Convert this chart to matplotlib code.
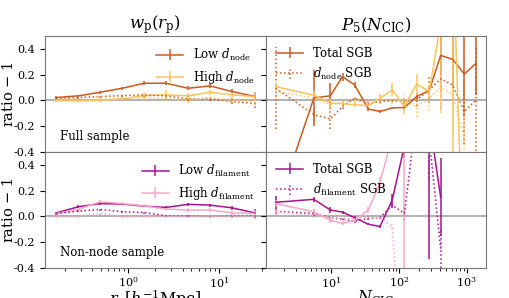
import matplotlib
matplotlib.use('Agg')
import matplotlib.pyplot as plt
import numpy as np

plt.rcParams['font.family'] = 'serif'
plt.rcParams['font.serif'] = ['DejaVu Serif']
plt.rcParams['mathtext.fontset'] = 'dejavuserif'
plt.rcParams['axes.unicode_minus'] = False

# projected correlation function bins
rp = [0.16, 0.28, 0.49, 0.86, 1.5, 2.6, 4.6, 8.0, 14.0, 25.0]
# counts-in-cells bins
ncic = [1.5, 5.5, 9.6, 14.6, 22, 35, 52, 79, 120, 181, 279, 411, 617, 922, 1374]

# top left: full sample, split by d_node
wp_low_node = [0.023, 0.036, 0.064, 0.095, 0.134, 0.134, 0.095, 0.113, 0.07, 0.031]
wp_low_node_err = [0.012, 0.01, 0.01, 0.012, 0.015, 0.015, 0.015, 0.018, 0.02, 0.035]
wp_high_node = [0.0, -0.002, 0.0, 0.013, 0.038, 0.044, 0.036, 0.064, 0.044, 0.03]
wp_high_node_err = [0.01, 0.01, 0.01, 0.012, 0.03, 0.035, 0.02, 0.02, 0.025, 0.035]
wp_low_node_sgb = [0.018, 0.023, 0.031, 0.038, 0.044, 0.036, 0.013, 0.013, -0.008, -0.025]
wp_low_node_sgb_err = [0.01, 0.01, 0.01, 0.012, 0.015, 0.03, 0.02, 0.015, 0.02, 0.03]
wp_high_node_sgb = [0.0, 0.0, 0.01, 0.015, 0.025, 0.015, 0.0, 0.025, 0.0, -0.005]
wp_high_node_sgb_err = [0.01, 0.01, 0.01, 0.012, 0.02, 0.02, 0.02, 0.015, 0.02, 0.03]

# bottom left: non-node sample, split by d_filament
wp_low_fil = [0.028, 0.075, 0.10, 0.096, 0.08, 0.07, 0.094, 0.088, 0.067, 0.028]
wp_low_fil_err = [0.01, 0.01, 0.012, 0.01, 0.01, 0.01, 0.01, 0.012, 0.015, 0.03]
wp_high_fil = [0.023, 0.055, 0.114, 0.10, 0.083, 0.057, 0.05, 0.05, 0.028, 0.023]
wp_high_fil_err = [0.01, 0.012, 0.015, 0.012, 0.01, 0.01, 0.012, 0.012, 0.015, 0.03]
wp_low_fil_sgb = [0.023, 0.041, 0.055, 0.037, 0.031, 0.005, 0.003, 0.0, 0.003, 0.005]
wp_low_fil_sgb_err = [0.01, 0.01, 0.01, 0.01, 0.01, 0.01, 0.01, 0.01, 0.012, 0.02]
wp_high_fil_sgb = [-0.003, 0.0, 0.025, -0.003, 0.0, 0.0, 0.0, 0.0, 0.0, 0.0]
wp_high_fil_sgb_err = [0.01, 0.01, 0.01, 0.01, 0.01, 0.01, 0.01, 0.01, 0.012, 0.02]

# top right: P5 full sample
p5_total = [-0.86, 0.02, 0.036, 0.185, 0.12, -0.066, -0.085, -0.058, -0.054, 0.03, 0.077, 0.35, 0.32, 0.205, 0.29]
p5_total_err = [0.3, 0.22, 0.1, 0.03, 0.02, 0.015, 0.01, 0.01, 0.01, 0.02, 0.03, 0.16, 0.22, 0.335, 0.25]
p5_node_sgb = [0.095, -0.11, -0.143, -0.046, 0.018, -0.025, -0.008, 0.0, -0.008, 0.005, 0.08, 0.17, 0.12, -0.085, 0.005]
p5_node_sgb_err = [0.32, 0.05, 0.08, 0.02, 0.01, 0.02, 0.01, 0.01, 0.02, 0.05, 0.1, 0.1, 0.15, 0.25, 0.4]
p5_high_node = [0.108, 0.04, -0.02, -0.025, -0.033, -0.04, 0.018, 0.082, -0.046, 0.126, 0.07, 0.6, 1.2, -1.5, np.nan]
p5_high_node_err = [0.03, 0.03, 0.03, 0.02, 0.02, 0.02, 0.03, 0.05, 0.06, 0.08, 0.05, 0.68, 1.6, 0.5, np.nan]
p5_high_node_sgb = [0.07, 0.02, -0.03, -0.02, 0.0, -0.02, -0.01, 0.0, 0.0, -0.05, 0.02, 0.1, 0.05, -0.3, np.nan]
p5_high_node_sgb_err = [0.05, 0.03, 0.03, 0.02, 0.02, 0.02, 0.02, 0.03, 0.05, 0.08, 0.1, 0.2, 0.3, 0.3, np.nan]

# bottom right: P5 non-node sample
p5_total_fil = [0.11, 0.133, 0.05, 0.034, -0.01, -0.06, -0.078, 0.127, 0.55, 1.0, 0.75, 0.15, np.nan, np.nan, np.nan]
p5_total_fil_err = [0.05, 0.02, 0.02, 0.012, 0.01, 0.01, 0.01, 0.05, 0.1, 0.3, 1.08, 0.3, np.nan, np.nan, np.nan]
p5_fil_sgb = [0.04, 0.023, -0.01, -0.02, -0.037, -0.016, -0.01, 0.088, 0.023, 0.8, 0.6, -0.25, np.nan, np.nan, np.nan]
p5_fil_sgb_err = [0.02, 0.02, 0.01, 0.01, 0.01, 0.01, 0.01, 0.02, 0.05, 0.2, 0.3, 0.15, np.nan, np.nan, np.nan]
p5_high_fil = [0.10, 0.036, -0.03, -0.055, -0.03, 0.05, 0.26, 0.62, 0.7, np.nan, np.nan, np.nan, np.nan, np.nan, np.nan]
p5_high_fil_err = [0.03, 0.02, 0.02, 0.01, 0.01, 0.02, 0.045, 0.1, 1.2, np.nan, np.nan, np.nan, np.nan, np.nan, np.nan]
p5_high_fil_sgb = [0.035, 0.01, -0.01, -0.03, -0.01, -0.01, -0.01, -0.08, -1.37, np.nan, np.nan, np.nan, np.nan, np.nan, np.nan]
p5_high_fil_sgb_err = [0.02, 0.02, 0.01, 0.01, 0.01, 0.01, 0.01, 0.02, 0.3, np.nan, np.nan, np.nan, np.nan, np.nan, np.nan]

c_orange = '#cc5a1e'
c_yellow = '#fcc35a'
c_purple = '#a8128f'
c_pink = '#f9a8c0'


def draw(ax, x, y, err, color, ls='-', label=None):
    eb = ax.errorbar(x, y, yerr=err, color=color, ls=ls, lw=1.1, elinewidth=1.1, label=label)
    if ls != '-':
        eb[2][0].set_linestyle(ls)
    return eb


fig, axes = plt.subplots(2, 2, figsize=(5.09, 2.98), dpi=100)
fig.subplots_adjust(left=0.0884, right=0.955, bottom=0.1007, top=0.879, wspace=0, hspace=0)

ax = axes[0][0]
draw(ax, rp, wp_low_node, wp_low_node_err, c_orange, label=r'Low $d_{\rm node}$')
draw(ax, rp, wp_high_node, wp_high_node_err, c_yellow, label=r'High $d_{\rm node}$')
draw(ax, rp, wp_low_node_sgb, wp_low_node_sgb_err, c_orange, ls=':')
draw(ax, rp, wp_high_node_sgb, wp_high_node_sgb_err, c_yellow, ls=':')
ax.legend(loc='upper right', frameon=False, fontsize=8.5, handlelength=2.3)
ax.text(0.07, 0.1, 'Full sample', transform=ax.transAxes, fontsize=8.5)
ax.set_title(r'$w_{\rm p}(r_{\rm p})$', fontsize=12, pad=4)

ax = axes[0][1]
draw(ax, ncic, p5_total, p5_total_err, c_orange, label='Total SGB')
draw(ax, ncic, p5_node_sgb, p5_node_sgb_err, c_orange, ls=':', label=r'$d_{\rm node}$ SGB')
draw(ax, ncic, p5_high_node, p5_high_node_err, c_yellow)
draw(ax, ncic, p5_high_node_sgb, p5_high_node_sgb_err, c_yellow, ls=':')
ax.legend(loc='upper left', frameon=False, fontsize=8.5, handlelength=2.3)
ax.set_title(r'$P_5(N_{\rm CIC})$', fontsize=12, pad=4)

ax = axes[1][0]
draw(ax, rp, wp_low_fil, wp_low_fil_err, c_purple, label=r'Low $d_{\rm filament}$')
draw(ax, rp, wp_high_fil, wp_high_fil_err, c_pink, label=r'High $d_{\rm filament}$')
draw(ax, rp, wp_low_fil_sgb, wp_low_fil_sgb_err, c_purple, ls=':')
draw(ax, rp, wp_high_fil_sgb, wp_high_fil_sgb_err, c_pink, ls=':')
ax.legend(loc='upper right', frameon=False, fontsize=8.5, handlelength=2.3)
ax.text(0.07, 0.1, 'Non-node sample', transform=ax.transAxes, fontsize=8.5)
ax.set_xlabel(r'$r_{\rm p} [h^{-1}{\rm Mpc}]$', fontsize=11.5, labelpad=-1.5)

ax = axes[1][1]
draw(ax, ncic, p5_total_fil, p5_total_fil_err, c_purple, label='Total SGB')
draw(ax, ncic, p5_fil_sgb, p5_fil_sgb_err, c_purple, ls=':', label=r'$d_{\rm filament}$ SGB')
draw(ax, ncic, p5_high_fil, p5_high_fil_err, c_pink)
draw(ax, ncic, p5_high_fil_sgb, p5_high_fil_sgb_err, c_pink, ls=':')
ax.legend(loc='upper left', frameon=False, fontsize=8.5, handlelength=2.3)
ax.set_xlabel(r'$N_{\rm CIC}$', fontsize=11.5, labelpad=-1.5)

for row in range(2):
    for col in range(2):
        ax = axes[row][col]
        ax.set_xscale('log')
        ax.set_ylim(-0.4, 0.5)
        ax.set_yticks([-0.4, -0.2, 0.0, 0.2, 0.4])
        ax.axhline(0, color='gray', lw=1.5, alpha=0.6, zorder=0)
        ax.tick_params(labelsize=8)
        ax.tick_params(axis='x', pad=2)
        for s in ax.spines.values():
            s.set_color('#777777')
        if col == 0:
            ax.set_xlim(0.12, 33)
            ax.set_ylabel(r'ratio $-$ 1', fontsize=10.5)
            ax.yaxis.set_label_coords(-0.13, 0.5)
        else:
            ax.set_xlim(1.06, 1930)
            ax.set_yticklabels([])
        if row == 0:
            ax.set_xticklabels([])
            ax.tick_params(axis='x', which='both', labelbottom=False)

plt.savefig('out.png', dpi=100)
